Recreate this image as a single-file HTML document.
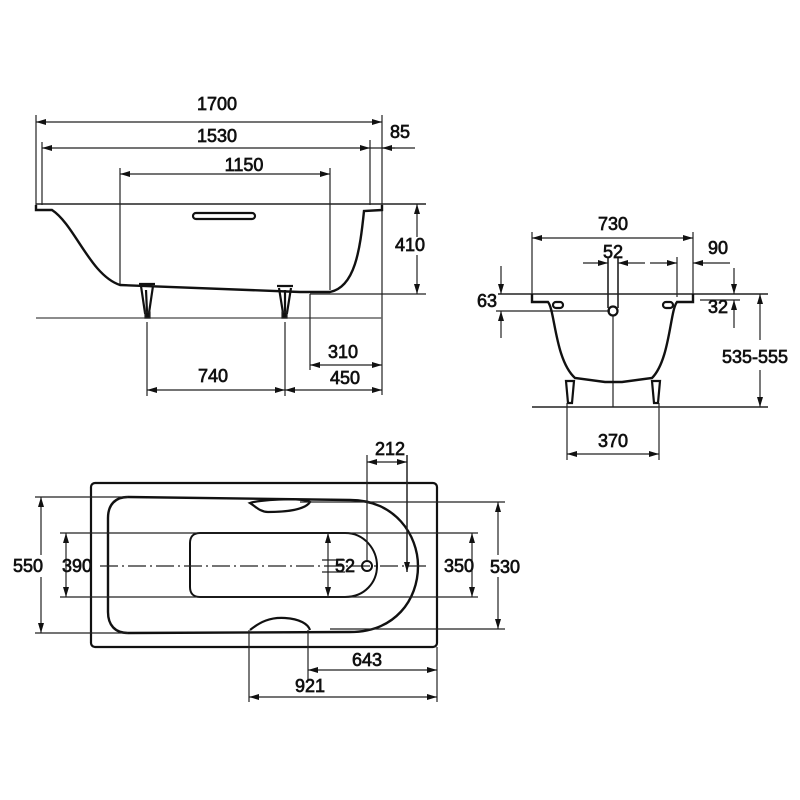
<!DOCTYPE html>
<html><head><meta charset="utf-8"><style>
html,body{margin:0;padding:0;background:#fff;}
svg{display:block;}
text{font-family:"Liberation Sans",Arial,sans-serif;font-size:18px;fill:#111;stroke:#111;stroke-width:0.7;text-anchor:middle;}
</style></head><body>
<svg width="800" height="800" viewBox="0 0 800 800" xmlns="http://www.w3.org/2000/svg">
<defs>
<marker id="a" viewBox="0 0 10 6" refX="10" refY="3" markerWidth="10" markerHeight="6" orient="auto-start-reverse" markerUnits="userSpaceOnUse"><path d="M0,0 L10,3 L0,6 z" fill="#111"/></marker>
</defs>
<g fill="none" stroke="#222" stroke-width="1.2">
<line x1="36" y1="115" x2="36" y2="205"/>
<line x1="42" y1="142" x2="42" y2="205"/>
<line x1="370" y1="140" x2="370" y2="205"/>
<line x1="382" y1="115" x2="382" y2="395"/>
<line x1="120" y1="168" x2="120" y2="285"/>
<line x1="330" y1="168" x2="330" y2="290"/>
<line x1="36" y1="204" x2="426" y2="204" stroke-width="1.6"/>
<line x1="310" y1="294" x2="426" y2="294"/>
<line x1="36" y1="318" x2="382" y2="318" stroke="#666" stroke-width="1.6"/>
<line x1="147" y1="322" x2="147" y2="396"/>
<line x1="285" y1="322" x2="285" y2="396"/>
<line x1="310" y1="294" x2="310" y2="370"/>
<line x1="36" y1="122" x2="382" y2="122" marker-start="url(#a)" marker-end="url(#a)"/>
<line x1="42" y1="148" x2="370" y2="148" marker-start="url(#a)" marker-end="url(#a)"/>
<line x1="370" y1="148" x2="415" y2="148"/>
<line x1="395" y1="148" x2="382" y2="148" marker-end="url(#a)"/>
<line x1="120" y1="174" x2="330" y2="174" marker-start="url(#a)" marker-end="url(#a)"/>
<line x1="417" y1="204" x2="417" y2="294" marker-start="url(#a)" marker-end="url(#a)"/>
<line x1="310" y1="365" x2="382" y2="365" marker-start="url(#a)" marker-end="url(#a)"/>
<line x1="147" y1="390" x2="285" y2="390" marker-start="url(#a)" marker-end="url(#a)"/>
<line x1="285" y1="390" x2="382" y2="390" marker-start="url(#a)" marker-end="url(#a)"/>
<path d="M36,205 L36,210 L52,210 C75,225 90,275 120,285 L300,292 L330,292 C355,287 360,250 364,211 L382,210 L382,205" stroke="#111" stroke-width="2.4"/>
<rect x="193" y="213" width="62" height="6" rx="3" stroke="#111" stroke-width="2.2"/>
<path d="M139,284 L155,284 M141,286 L145,313 L149,313 L153,286 M146,290 L147,312" stroke="#111" stroke-width="2.2"/>
<rect x="145" y="312" width="5" height="6" fill="#111"/>
<path d="M277,286 L293,286 M279,288 L283,313 L287,313 L291,288 M285,290 L285,312" stroke="#111" stroke-width="2.2"/>
<rect x="282" y="312" width="5" height="6" fill="#111"/>

<line x1="532" y1="232" x2="532" y2="297"/>
<line x1="693" y1="232" x2="693" y2="297"/>
<line x1="677" y1="257" x2="677" y2="297"/>
<line x1="532" y1="238" x2="693" y2="238" marker-start="url(#a)" marker-end="url(#a)"/>
<line x1="583" y1="263" x2="608" y2="263" marker-end="url(#a)"/>
<line x1="645" y1="263" x2="618" y2="263" marker-end="url(#a)"/>
<line x1="650" y1="263" x2="677" y2="263" marker-end="url(#a)"/>
<line x1="730" y1="263" x2="693" y2="263" marker-end="url(#a)"/>
<line x1="608" y1="258" x2="608" y2="308" stroke-width="1.6"/>
<line x1="618" y1="258" x2="618" y2="308" stroke-width="1.6"/>
<line x1="498" y1="294" x2="768" y2="294" stroke-width="1.6"/>
<line x1="496" y1="311" x2="610" y2="311"/>
<line x1="700" y1="300" x2="740" y2="300"/>
<line x1="501" y1="266" x2="501" y2="294" marker-end="url(#a)"/>
<line x1="501" y1="338" x2="501" y2="311" marker-end="url(#a)"/>
<line x1="734" y1="268" x2="734" y2="294" marker-end="url(#a)"/>
<line x1="734" y1="328" x2="734" y2="300" marker-end="url(#a)"/>
<line x1="760" y1="294" x2="760" y2="340" marker-start="url(#a)"/>
<line x1="760" y1="370" x2="760" y2="407" marker-end="url(#a)"/>
<line x1="532" y1="407" x2="768" y2="407" stroke-width="1.6"/>
<line x1="613" y1="316" x2="613" y2="407"/>
<path d="M532,294 L532,302 L548,302 C555,310 555,360 575,378 L605,382 L622,382 L652,378 C670,360 670,310 677,302 L693,302 L693,294" stroke="#111" stroke-width="2.4"/>
<circle cx="613" cy="311" r="4.5" stroke="#111" stroke-width="2.2"/>
<rect x="553" y="302" width="10" height="6" rx="3" stroke="#111" stroke-width="2.2"/>
<rect x="663" y="302" width="10" height="6" rx="3" stroke="#111" stroke-width="2.2"/>
<path d="M566,381 L574,381 L572,403 L568,403 Z" stroke="#111" stroke-width="2.2"/>
<path d="M652,381 L660,381 L658,403 L654,403 Z" stroke="#111" stroke-width="2.2"/>
<line x1="567" y1="403" x2="567" y2="460"/>
<line x1="659" y1="403" x2="659" y2="460"/>
<line x1="567" y1="454" x2="659" y2="454" marker-start="url(#a)" marker-end="url(#a)"/>

<rect x="91" y="483" width="346" height="164" rx="4" stroke="#111" stroke-width="2.2"/>
<path d="M128,497 L350,500 C395,500 418,535 418,566 C418,600 395,632 350,632 L128,633 C115,633 108,625 108,612 L108,518 C108,505 115,497 128,497 Z" stroke="#111" stroke-width="2.4"/>
<path d="M200,533 L345,533 C365,533 377,550 377,566 C377,582 365,597 345,597 L200,597 C193,597 190,593 190,587 L190,543 C190,537 193,533 200,533 Z" stroke="#111" stroke-width="2"/>
<path d="M250,503 C258,500 300,497 310,502 C305,510 285,512 268,512 C260,512 255,506 250,503 Z" stroke="#111" stroke-width="2.2"/>
<path d="M250,630 C260,622 270,617 285,618 C300,619 308,624 310,630" stroke="#111" stroke-width="2.2"/>
<line x1="35" y1="497" x2="128" y2="497"/>
<line x1="35" y1="633" x2="128" y2="633"/>
<line x1="41" y1="497" x2="41" y2="633" marker-start="url(#a)" marker-end="url(#a)"/>
<line x1="300" y1="502" x2="505" y2="502"/>
<line x1="330" y1="629" x2="505" y2="629"/>
<line x1="498" y1="502" x2="498" y2="629" marker-start="url(#a)" marker-end="url(#a)"/>
<line x1="60" y1="533" x2="478" y2="533"/>
<line x1="60" y1="597" x2="478" y2="597"/>
<line x1="66" y1="533" x2="66" y2="597" marker-start="url(#a)" marker-end="url(#a)"/>
<line x1="472" y1="533" x2="472" y2="597" marker-start="url(#a)" marker-end="url(#a)"/>
<line x1="328" y1="533" x2="328" y2="597" marker-start="url(#a)" marker-end="url(#a)"/>
<line x1="100" y1="566" x2="430" y2="566" stroke-dasharray="18,4,2,4"/>
<line x1="322" y1="560" x2="345" y2="560"/>
<line x1="322" y1="572" x2="345" y2="572"/>
<circle cx="367" cy="566" r="5" stroke="#111" stroke-width="2"/>
<line x1="367" y1="455" x2="367" y2="561"/>
<line x1="407" y1="455" x2="407" y2="572" marker-end="url(#a)" stroke-width="1.5"/>
<line x1="367" y1="462" x2="407" y2="462" marker-start="url(#a)" marker-end="url(#a)"/>
<line x1="308" y1="630" x2="308" y2="680"/>
<line x1="249" y1="630" x2="249" y2="702"/>
<line x1="437" y1="647" x2="437" y2="702"/>
<line x1="308" y1="670" x2="437" y2="670" marker-start="url(#a)" marker-end="url(#a)"/>
<line x1="249" y1="697" x2="437" y2="697" marker-start="url(#a)" marker-end="url(#a)"/>
</g>
<g>
<rect x="392" y="237" width="36" height="18" fill="#fff"/>
<rect x="730" y="341" width="48" height="28" fill="#fff"/>
<rect x="8" y="555" width="40" height="22" fill="#fff"/>
<rect x="482" y="555" width="42" height="22" fill="#fff"/>
</g>
<text x="217" y="110">1700</text>
<text x="217" y="142">1530</text>
<text x="400" y="138">85</text>
<text x="244" y="171">1150</text>
<text x="410" y="251">410</text>
<text x="343" y="358">310</text>
<text x="213" y="382">740</text>
<text x="345" y="384">450</text>
<text x="613" y="230">730</text>
<text x="613" y="258">52</text>
<text x="718" y="254">90</text>
<text x="487" y="307">63</text>
<text x="718" y="313">32</text>
<text x="755" y="363">535-555</text>
<text x="613" y="447">370</text>
<text x="390" y="455">212</text>
<text x="28" y="572">550</text>
<text x="77" y="572">390</text>
<text x="345" y="572">52</text>
<text x="459" y="572">350</text>
<text x="505" y="573">530</text>
<text x="367" y="666">643</text>
<text x="310" y="692">921</text>
</svg>
</body></html>
